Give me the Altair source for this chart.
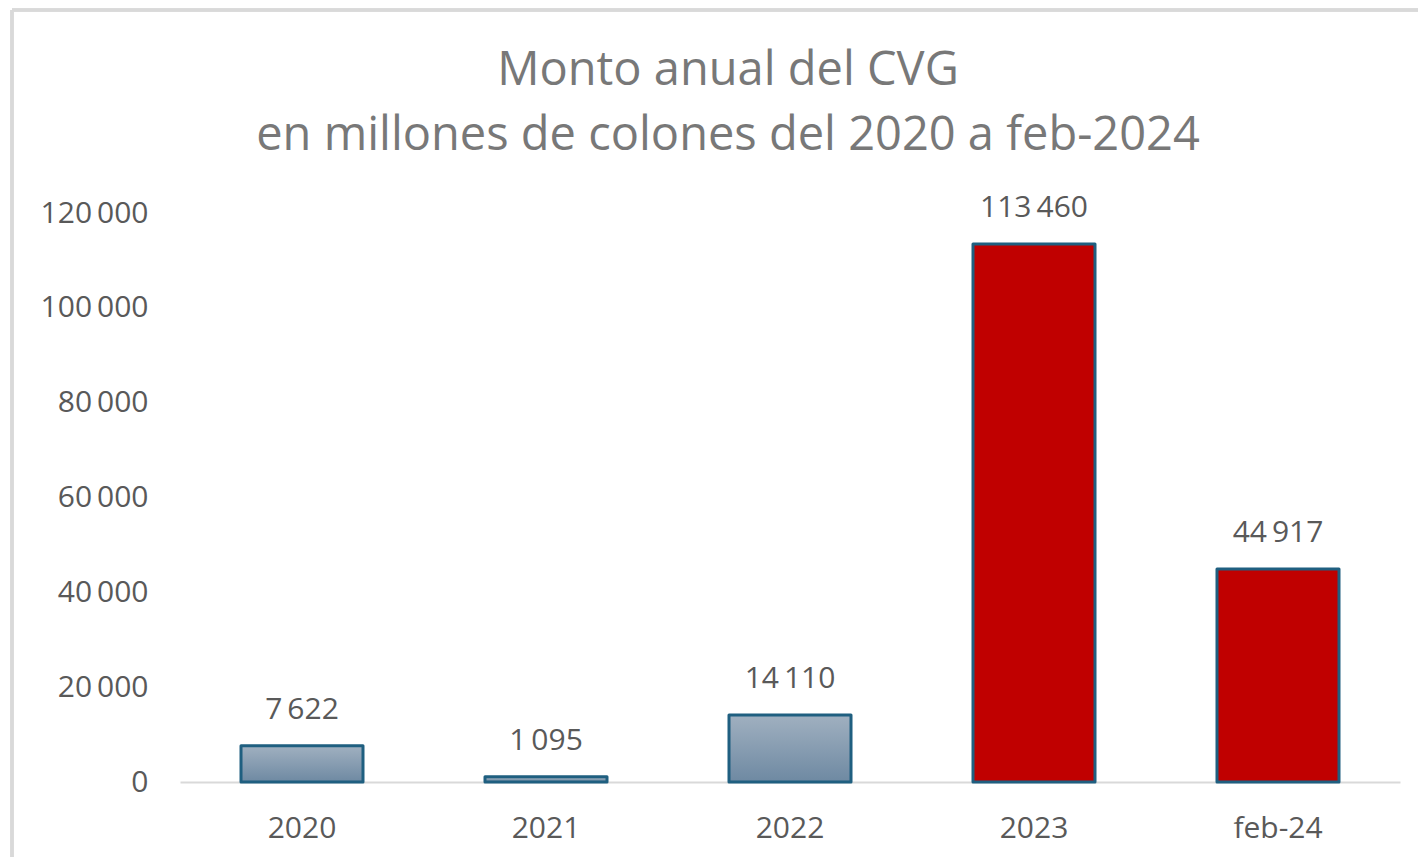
import altair as alt
import pandas as pd

categorias = ["2020", "2021", "2022", "2023", "feb-24"]
montos = [7622, 1095, 14110, 113460, 44917]
tipos = ["previo", "previo", "previo", "reciente", "reciente"]
y_ticks = [0, 20000, 40000, 60000, 80000, 100000, 120000]
titulo = ["Monto anual del CVG", "en millones de colones del 2020 a feb-2024"]

df = pd.DataFrame({"cat": categorias, "monto": montos, "tipo": tipos})

FONT = "Open Sans"
LABEL_COLOR = "#595959"

gradiente = alt.Gradient(
    gradient="linear",
    stops=[alt.GradientStop(offset=0, color="#a0b0c0"),
           alt.GradientStop(offset=1, color="#6e89a2")],
    x1=0, x2=0, y1=0, y2=1,
)

x_enc = alt.X("cat:N", sort=categorias, title=None,
              scale=alt.Scale(paddingInner=0.5, paddingOuter=0.25),
              axis=alt.Axis(labelAngle=0, labelFont=FONT, labelFontSize=30,
                            labelColor=LABEL_COLOR, labelPadding=31,
                            ticks=False, domainColor="#d9d9d9", domainWidth=2))
y_enc = alt.Y("monto:Q", title=None,
              scale=alt.Scale(domain=[0, 120000], nice=False),
              axis=alt.Axis(values=y_ticks, format=",d", labelFont=FONT,
                            labelFontSize=30, labelColor=LABEL_COLOR,
                            labelPadding=32, ticks=False, domain=False,
                            grid=False))

base = alt.Chart(df)

barras_previas = base.transform_filter(alt.datum.tipo == "previo").mark_bar(
    fill=gradiente, stroke="#1f5f80", strokeWidth=3, strokeJoin="round"
).encode(x=x_enc, y=y_enc)

barras_recientes = base.transform_filter(alt.datum.tipo == "reciente").mark_bar(
    fill="#C00000", stroke="#1f5f80", strokeWidth=3, strokeJoin="round"
).encode(x=x_enc, y=y_enc)

etiquetas = base.mark_text(
    font=FONT, fontSize=30, color=LABEL_COLOR, baseline="middle", dy=-36
).encode(x=x_enc, y=y_enc, text=alt.Text("monto:Q", format=",d"))

marco_sup = alt.Chart(df).mark_rule(color="#d9d9d9", strokeWidth=3).encode(
    x=alt.value(-168), x2=alt.value(1240), y=alt.value(-203))
marco_izq = alt.Chart(df).mark_rule(color="#d9d9d9", strokeWidth=3).encode(
    x=alt.value(-168), y=alt.value(-203), y2=alt.value(660))

chart = alt.layer(marco_sup, marco_izq, barras_previas, barras_recientes, etiquetas).properties(
    width=1220, height=569,
    title=alt.TitleParams(text=titulo, font=FONT, fontSize=47, fontWeight="normal",
                          color="#787878", anchor="middle", frame="group",
                          dx=-62, offset=-151, lineHeight=65),
    padding={"left": 172, "top": 205, "right": 18, "bottom": 75},
    autosize=alt.AutoSizeParams(type="none"),
).configure(
    locale={"number": {"decimal": ",", "thousands": "\u2009", "grouping": [3],
                       "currency": ["", ""]}}
).configure_view(strokeWidth=0, stroke="transparent")

chart.save("out.html", embed_options={"renderer": "svg", "actions": False})
